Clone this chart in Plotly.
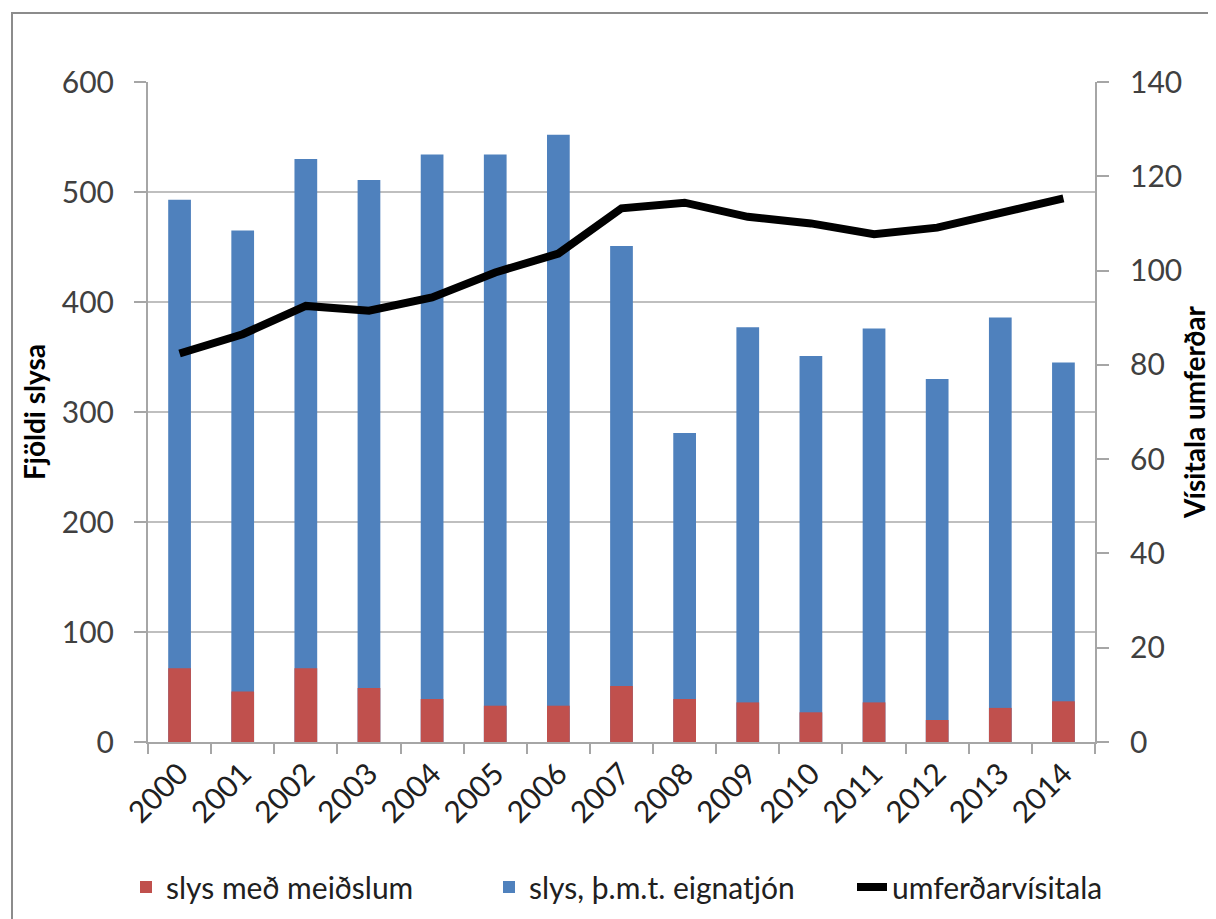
import plotly.graph_objects as go

years = [str(y) for y in range(2000, 2015)]
slys_alls = [493, 465, 530, 511, 534, 534, 552, 451, 281, 377, 351, 376, 330, 386, 345]
slys_meidsl = [67, 46, 67, 49, 39, 33, 33, 51, 39, 36, 27, 36, 20, 31, 37]
umferd = [82.4, 86.5, 92.5, 91.5, 94.3, 99.6, 103.6, 113.2, 114.4, 111.4, 110.0, 107.7, 109.1, 112.1, 115.3]

FONT = "Lato"
TICK_COLOR = "#404040"

fig = go.Figure()
fig.add_trace(go.Bar(x=years, y=slys_alls, name="slys, þ.m.t. eignatjón",
                     marker=dict(color="#4F81BD", line=dict(width=0)), legendrank=2))
fig.add_trace(go.Bar(x=years, y=slys_meidsl, name="slys með meiðslum",
                     marker=dict(color="#C0504D", line=dict(width=0)), legendrank=1))
fig.add_trace(go.Scatter(x=years, y=umferd, name="umferðarvísitala", yaxis="y2",
                         mode="lines", line=dict(color="black", width=8), legendrank=3))

# page has an 8px body margin; figure coordinates = page coordinates - 8
W, H = 1208, 911
L, T = 140, 74
R = W - 1087
B = H - 734
pw = W - L - R
ph = H - T - B

def px(x_page):
    return (x_page - 148) / pw

def py(y_page):
    return (742 - y_page) / ph

fig.update_layout(
    width=W, height=H,
    margin=dict(l=L, r=R, t=T, b=B, pad=0, autoexpand=False),
    paper_bgcolor="white", plot_bgcolor="white",
    barmode="overlay", bargap=0.64,
    font=dict(family=FONT, size=30, color=TICK_COLOR),
    showlegend=True,
    legend=dict(orientation="h", x=px(126), xanchor="left", y=py(887), yanchor="middle",
                font=dict(family=FONT, size=30, color="#202020"),
                entrywidth=318, entrywidthmode="pixels", bgcolor="rgba(0,0,0,0)",
                itemwidth=30, traceorder="normal"),
    xaxis=dict(type="category", showline=True, linecolor="#a6a6a6", linewidth=2,
               ticks="outside", tickson="boundaries", ticklen=10, tickcolor="#a6a6a6", tickwidth=2,
               tickangle=-45, tickfont=dict(family=FONT, size=30, color="#202020"),
               showgrid=False, automargin=False),
    yaxis=dict(range=[0, 600], dtick=100, showline=True, linecolor="#a6a6a6", linewidth=2,
               ticks="outside", ticklen=12, tickcolor="#a6a6a6", tickwidth=2,
               showgrid=True, gridcolor="#bfbfbf", gridwidth=2, zeroline=False,
               ticklabelstandoff=14, automargin=False,
               tickfont=dict(family=FONT, size=30, color=TICK_COLOR),
               title=dict(text="<b>Fjöldi slysa</b>", font=dict(family=FONT, size=28, color="black"),
                          standoff=8)),
    yaxis2=dict(range=[0, 140], dtick=20, overlaying="y", side="right", showline=True,
                linecolor="#a6a6a6", linewidth=2, ticks="outside", ticklen=12,
                tickcolor="#a6a6a6", tickwidth=2, showgrid=False, zeroline=False,
                ticklabelstandoff=15, automargin=False,
                tickfont=dict(family=FONT, size=30, color=TICK_COLOR),
                title=dict(text="<b>Vísitala umferðar</b>", font=dict(family=FONT, size=28, color="black"),
                           standoff=4)),
    shapes=[dict(type="rect", xref="paper", yref="paper",
                 x0=px(12), x1=px(1214), y0=py(935), y1=py(13),
                 line=dict(color="#8c8c8c", width=2), fillcolor="rgba(0,0,0,0)", layer="below")],
)

fig.write_html("out.html")
